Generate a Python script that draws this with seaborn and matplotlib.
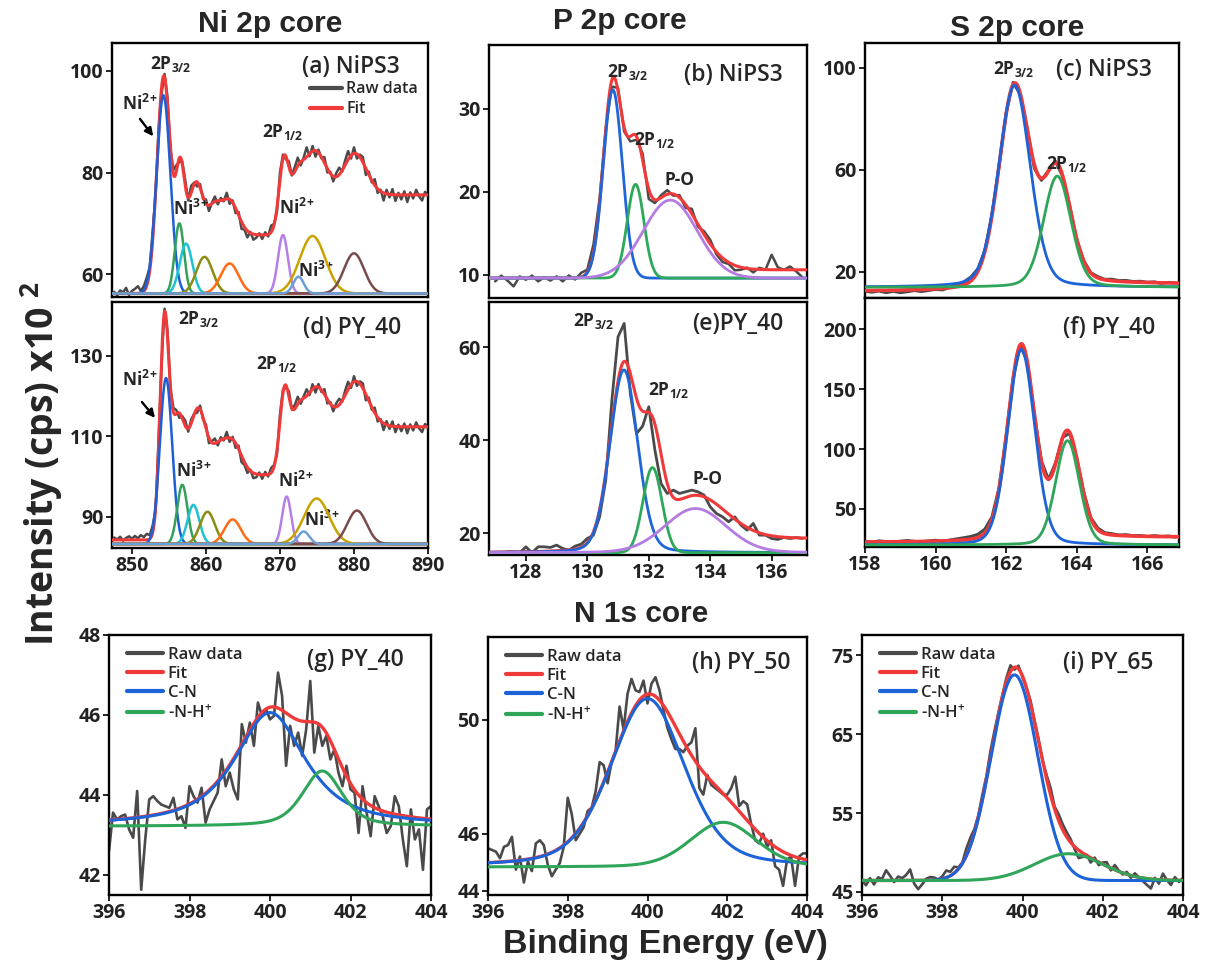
import math
import numpy as np
import matplotlib
matplotlib.use("Agg")
import matplotlib.pyplot as plt
import seaborn as sns
from matplotlib.lines import Line2D

# ---------------------------------------------------------------- data
# Peak components: centre (eV), height above baseline, FWHM (eV), Lorentz fraction
# Ni 2p, NiPS3 (a)
NI_A_CENTER = [854.25, 856.4, 857.3, 859.8, 863.2, 870.4, 874.4, 880.0, 872.5]
NI_A_AMP = [39.0, 13.8, 9.8, 7.2, 5.9, 11.5, 11.3, 7.9, 3.3]
NI_A_FWHM = [2.19, 1.46, 2.0, 2.59, 2.83, 1.58, 4.07, 3.18, 1.65]
NI_A_BASE = 56.2
NI_A_FIT_CENTER = [854.25, 856.5, 858.6, 861.0, 863.1, 870.5, 872.2, 874.5, 880.0]
NI_A_FIT_AMP = [40.0, 17.5, 13.5, 5.8, 7.4, 13.2, 5.0, 12.7, 9.2]
NI_A_FIT_FWHM = [2.07, 1.41, 2.35, 2.12, 2.83, 1.53, 1.88, 4.24, 3.77]
NI_A_BG = [56.2, 75.6]
NI_A_RESID = [0.3, -0.4, 0.6, 0.2, 1.1, -0.3, 0.5, 0.9, 1.4, 0.4, 1.0,
              1.6, 0.7, 1.8, -0.5, 0.8, -1.2, 0.6, 1.3, -0.4, 0.9,
              1.2, -0.8, 0.5, 1.1, -0.6, 1.4, 0.3, -0.9, 0.7, -0.4,
              0.8, -1.1, 0.2, 1.0, -0.7, 0.5, -0.3, 1.2, -0.9, 0.4,
              -1.0, 0.6, -1.4, -0.5, -1.3, 0.2, -1.1, -0.6, 0.3, -0.8,
              0.5, -0.4, 1.3, 0.2, -0.9, 1.5, 0.8, -0.6, 1.1, -0.3,
              0.9, 1.6, -0.7, 0.4, 1.9, -0.5, 1.0, -1.2, 0.6, -0.3,
              1.1, -0.8, 0.3, -1.0, 0.7, 1.4, -0.2, 0.9, 1.7, -0.6,
              1.2, -0.9, 0.5, 1.0, -1.3, 0.6, -0.4, 1.2, -0.8, 0.3,
              -1.5, 0.8, -0.6, 1.1, -1.2, 0.4, -0.9, 0.7, -1.4, 0.5,
              -0.7, 1.0, -0.3, -1.1, 0.6, -0.2]

# Ni 2p, PY_40 (d)
NI_D_CENTER = [854.6, 856.8, 858.3, 860.2, 863.6, 870.9, 874.95, 880.4, 873.2]
NI_D_AMP = [41.2, 14.7, 9.7, 8.0, 6.1, 11.8, 11.3, 8.3, 3.1]
NI_D_FWHM = [1.95, 1.62, 1.88, 2.35, 2.59, 1.41, 4.0, 3.06, 1.77]
NI_D_BASE = 83.3
NI_D_FIT_CENTER = [854.35, 856.15, 858.9, 861.5, 863.5, 870.6, 872.3, 874.7, 880.1]
NI_D_FIT_AMP = [49.0, 23.0, 21.0, 7.0, 9.0, 19.0, 7.0, 16.0, 13.0]
NI_D_FIT_FWHM = [1.41, 2.35, 2.59, 2.35, 2.83, 1.53, 1.88, 4.24, 4.0]
NI_D_BG = [84.3, 112.4]
NI_D_RESID = [0.6, 0.1, 0.8, -0.2, 0.5, 0.9, 0.3, 1.0, 0.4, 1.2, 0.7,
              1.5, 0.9, 1.8, -0.6, 1.2, -1.0, 0.8, 1.4, -0.5, 1.1,
              0.9, -1.2, 0.6, 1.3, -0.8, 1.0, 0.2, -1.1, 0.9, -0.5,
              1.0, -1.3, 0.4, 1.2, -0.9, 0.7, -0.4, 1.5, -1.0, 0.6,
              -1.2, 0.8, -1.6, -0.7, -1.4, 0.3, -1.3, -0.8, 0.5, -1.0,
              0.7, -0.5, 1.2, 0.4, -1.1, 1.6, 0.9, -0.7, 1.3, -0.4,
              1.0, 1.8, -0.9, 0.5, 1.7, -0.6, 1.2, -1.4, 0.8, -0.5,
              1.3, -1.0, 0.4, -1.2, 0.9, 1.5, -0.3, 1.1, 1.9, -0.8,
              1.4, -1.1, 0.6, 1.2, -1.5, 0.8, -0.6, 1.3, -1.0, 0.4,
              -1.7, 0.9, -0.8, 1.2, -1.4, 0.5, -1.1, 0.8, -1.6, 0.6,
              -0.9, 1.1, -0.4, -1.3, 0.7, -0.3]
NI_RAW_RANGE = [847.6, 890.0]

# P 2p, NiPS3 (b)
P_B_CENTER = [130.83, 131.57, 132.7]
P_B_AMP = [22.7, 11.3, 9.4]
P_B_FWHM = [0.73, 0.64, 2.07]
P_B_ETA = [0.0, 0.0, 0.0]
P_B_BASE = 9.6
P_B_BG = [9.6, 10.6]
P_B_RESID = [-0.4, 0.3, -0.3, -1.0, 0.2, -0.2, 0.3, -0.4, 0.1, -0.3,
             0.2, -0.4, 0.3, -0.2, 0.5, 0.3, 1.0, 0.6, 0.2, -0.8,
             0.4, -0.5, -0.6, -0.4, 0.8, -1.2, -0.4, 0.3, 0.5, -0.2,
             0.3, -0.4, 0.6, -0.3, 0.4, 0.5, -0.3, -0.5, -0.2, -0.6,
             -0.3, 0.1, -0.4, 0.2, 0.0, 1.8, 0.3, 0.0, 0.4, -0.2,
             -0.9]
P_B_RAW_RANGE = [127.0, 137.0]

# P 2p, PY_40 (e)
P_E_CENTER = [131.19, 132.12, 133.52]
P_E_AMP = [39.3, 18.3, 9.5]
P_E_FWHM = [1.06, 0.73, 2.35]
P_E_ETA = [0.15, 0.0, 0.1]
P_E_BASE = 15.8
P_E_BG = [15.8, 18.8]
P_E_RAW = [15.63, 15.99, 15.99, 15.77, 17.06, 15.77, 17.06, 17.06, 16.92, 17.42,
           16.70, 16.34, 17.20, 17.63, 18.85, 19.57, 23.51, 31.40, 48.60, 62.22,
           65.09, 50.04, 41.40, 43.00, 47.17, 37.85, 30.68, 28.53, 29.25, 28.53,
           28.89, 29.25, 28.89, 28.17, 25.66, 24.23, 23.51, 22.44, 23.51, 21.72,
           20.64, 22.08, 19.57, 19.57, 18.85, 18.64, 19.07, 18.85, 19.07, 18.85]
P_E_RAW_RANGE = [127.2, 137.0]

# S 2p, NiPS3 (c)
S_C_CENTER = [162.24, 163.45]
S_C_AMP = [79.3, 43.6]
S_C_FWHM = [1.05, 0.92]
S_C_ETA = [0.2, 0.2]
S_C_BASE = 14.0
S_C_BG = [12.4, 15.3]
S_C_RESID = [-0.3, -0.6, -0.2, -0.9, -0.4, -1.0, -0.7, -0.3, -0.8, -0.5,
             -0.2, -0.6, 0.1, 0.5, 1.2, 1.5, 1.0, 0.4, 0.6, -0.3,
             0.5, 0.8, -0.4, 0.3, -1.4, -0.8, 0.2, 0.6, -0.3, 0.4,
             -0.2, 0.3, 0.1, 0.5, 0.2, 0.6, 0.3, 0.5, 0.2, 0.4,
             0.1, 0.3, -0.2, 0.2, 0.0]

# S 2p, PY_40 (f)
S_F_CENTER = [162.43, 163.74]
S_F_AMP = [163.0, 87.0]
S_F_FWHM = [0.9, 0.8]
S_F_ETA = [0.15, 0.15]
S_F_BASE = 20.0
S_F_BG = [22.2, 26.4]
S_F_RESID = [0.5, -0.3, 0.8, 0.2, -0.5, 0.4, 0.9, 0.1, -0.4, 0.3,
             0.7, -0.2, 0.5, 1.2, 1.8, 2.2, 2.6, 3.0, 2.0, 1.0,
             1.5, 0.5, -1.0, 0.8, -0.6, 0.4, -0.5, 0.9, 0.3, -0.8,
             0.6, 1.2, 0.5, 1.4, 0.8, 1.0, 0.3, 0.9, 0.2, 0.6,
             -0.2, 0.7, 0.1, 0.5, -0.3]
S_RAW_RANGE = [158.0, 166.8]

# N 1s, PY_40 (g)
N_G_CENTER = [400.0, 401.3]
N_G_AMP = [2.84, 1.38]
N_G_FWHM = [2.1, 1.16]
N_G_ETA = [0.8, 0.5]
N_G_BASE = 43.22
N_G_RAW = [42.60, 43.56, 43.39, 43.47, 43.51, 43.14, 42.93, 44.10, 41.63, 42.89,
           43.89, 43.97, 43.85, 43.76, 43.72, 43.68, 43.93, 43.39, 43.47, 43.18,
           44.22, 43.97, 43.81, 44.18, 43.31, 43.64, 43.85, 44.06, 44.89, 44.22,
           44.56, 44.14, 43.89, 45.77, 45.31, 45.81, 45.23, 46.31, 45.98, 46.15,
           45.89, 45.98, 47.06, 46.48, 44.73, 45.73, 45.23, 45.56, 44.98, 45.65,
           46.85, 45.06, 45.73, 45.23, 45.48, 44.89, 45.14, 44.56, 44.22, 44.73,
           44.14, 44.06, 43.05, 44.22, 43.56, 42.97, 43.97, 43.72, 43.47, 43.05,
           43.22, 43.97, 43.72, 42.89, 42.22, 43.64, 42.89, 43.14, 42.13, 43.64,
           43.72]

# N 1s, PY_50 (h)
N_H_CENTER = [400.0, 401.9]
N_H_AMP = [5.91, 1.57]
N_H_FWHM = [2.2, 1.95]
N_H_ETA = [0.35, 0.2]
N_H_BASE = 44.83
N_H_RAW = [45.49, 45.43, 45.37, 45.14, 45.54, 45.60, 45.89, 44.74, 45.20, 44.29,
           45.03, 44.69, 45.66, 45.77, 45.60, 44.91, 44.51, 44.74, 44.97, 45.54,
           47.26, 46.69, 45.77, 46.00, 46.23, 46.80, 46.91, 47.49, 48.51, 48.40,
           47.77, 48.51, 48.91, 50.46, 49.66, 50.91, 51.43, 51.03, 50.97, 51.37,
           50.57, 51.26, 51.49, 51.03, 50.34, 49.71, 49.31, 48.97, 48.97, 48.86,
           49.09, 49.20, 49.70, 47.60, 47.37, 48.06, 47.71, 47.60, 47.49, 47.37,
           47.37, 47.60, 48.00, 46.97, 47.14, 47.03, 46.34, 45.77, 45.66, 46.00,
           45.54, 45.77, 44.86, 44.74, 44.17, 45.09, 45.20, 44.17, 45.20, 45.31,
           45.31]

# N 1s, PY_65 (i)
N_I_CENTER = [399.8, 401.15]
N_I_AMP = [26.1, 3.4]
N_I_FWHM = [1.37, 2.0]
N_I_ETA = [0.0, 0.0]
N_I_BASE = 46.44
N_I_RESID = [0.0, -0.6, 0.3, -0.5, 0.4, 0.2, 1.3, 0.6, -0.2, 0.5, 0.3,
             0.7, 1.4, -0.4, -1.1, -0.5, 0.2, 0.4, 0.3, 0.0, 0.3,
             0.9, 0.5, 0.8, 0.2, 0.1, 0.9, 1.0, 0.5, 0.3, 0.6,
             0.4, 0.8, 0.6, 0.3, 0.2, 0.5, 0.8, -0.3, 0.4, -0.2,
             0.0, 0.4, 0.2, 0.3, 0.0, 0.5, 0.9, 0.3, 0.8, 0.7,
             0.6, 0.4, -0.3, -1.0, -0.5, 0.1, -0.6, 0.3, -0.4, 0.2,
             0.5, -0.3, 0.6, 0.1, -0.2, 0.3, -0.3, 0.4, 0.0, -0.4,
             -0.8, -1.2, 0.2, -0.5, 0.8, 0.0, -0.6, 0.4, -0.2, 0.3]
N_RAW_RANGE = [396.0, 404.0]

# ---------------------------------------------------------------- style
RAW_C = "#4a4a4a"
FIT_C = "#f03a3a"
NI_COLORS = ["#1f5fd6", "#34a05a", "#1cc4d2", "#8c8c12", "#ff6a13",
             "#b67fe6", "#caa200", "#7b4b4b", "#6b9fd6"]
P_COLORS = ["#1f66d8", "#2ea85a", "#b47be2"]
SN_COLORS = ["#1d63d8", "#2fa55a"]

sns.set_theme(style="ticks")
plt.rcParams.update({
    "font.family": ["Open Sans", "DejaVu Sans"],
    "font.weight": "bold",
    "mathtext.default": "regular",
    "axes.linewidth": 1.7,
    "axes.edgecolor": "black",
    "xtick.color": "#222222",
    "ytick.color": "#222222",
    "xtick.major.width": 1.4,
    "ytick.major.width": 1.4,
    "xtick.major.size": 4,
    "ytick.major.size": 4,
    "xtick.direction": "out",
    "ytick.direction": "out",
})

W, H = 1210, 969
fig = plt.figure(figsize=(W / 100, H / 100), dpi=100)
fig.patch.set_facecolor("white")


def pvoigt(x, c, a, fwhm, eta):
    s = fwhm / 2.3548
    hw = fwhm / 2.0
    g = np.exp(-0.5 * ((x - c) / s) ** 2)
    lor = 1.0 / (1.0 + ((x - c) / hw) ** 2)
    return a * (eta * lor + (1.0 - eta) * g)


_erf = np.vectorize(math.erf)


def pvoigt_area(x, c, a, fwhm, eta):
    s = fwhm / 2.3548
    hw = fwhm / 2.0
    g = s * math.sqrt(2 * math.pi) * 0.5 * (1 + _erf((x - c) / (s * math.sqrt(2))))
    lor = hw * (np.arctan((x - c) / hw) + np.pi / 2)
    return a * (eta * lor + (1.0 - eta) * g)


def envelope(x, centers, amps, fwhms, etas, lo, hi, xlim):
    """Sum of peaks on a Shirley-type step background running from lo to hi."""
    x = np.asarray(x, float)
    params = list(zip(centers, amps, fwhms, etas))
    peaks = sum(pvoigt(x, *p) for p in params)
    if lo == hi:
        return lo + peaks
    edges = np.asarray(xlim, float)
    cum = sum(pvoigt_area(x, *p) for p in params)
    cum_e = sum(pvoigt_area(edges, *p) for p in params)
    frac = (cum - cum_e[0]) / (cum_e[1] - cum_e[0])
    return lo + (hi - lo) * frac + peaks


def line(ax, x, y, color, lw, z=2):
    sns.lineplot(x=np.asarray(x), y=np.asarray(y), ax=ax, color=color, lw=lw,
                 estimator=None, sort=False, errorbar=None, legend=False, zorder=z)


def axes_px(l, t, r, b):
    return fig.add_axes([l / W, 1 - b / H, (r - l) / W, (b - t) / H])


TICK_FS = 14


def bold_ticks(ax):
    for t in ax.get_xticklabels() + ax.get_yticklabels():
        t.set_fontweight("bold")


def draw(ax, xlim, comp, fit, base, bg, raw_x, raw_y, colors,
         raw_lw=1.4, fit_lw=2.2, comp_lw=1.8):
    xf = np.linspace(xlim[0], xlim[1], 1600)
    line(ax, raw_x, raw_y, RAW_C, raw_lw, z=2)
    fc, fa, fw, fe = fit
    line(ax, xf, envelope(xf, fc, fa, fw, fe, bg[0], bg[1], xlim), FIT_C, fit_lw, z=3)
    for (c, a, w, e), col in zip(zip(*comp), colors):
        line(ax, xf, base + pvoigt(xf, c, a, w, e), col, comp_lw, z=4)
    ax.set_xlim(*xlim)
    ax.set_xlabel("")
    ax.set_ylabel("")
    for s in ax.spines.values():
        s.set_visible(True)
        s.set_linewidth(1.7)
        s.set_color("black")
    ax.tick_params(labelsize=TICK_FS, pad=2)


LBL = dict(fontsize=16.5, fontweight="semibold", ha="center", va="center")
PK = dict(fontsize=12.5, fontweight="bold", ha="center", va="center")
ARROW = dict(arrowstyle="-|>", color="black", lw=1.7, mutation_scale=12)
NI2 = "Ni$^{2}$$^{+}$"
NI3 = "Ni$^{3}$$^{+}$"

# ---------------------------------------------------------------- Ni 2p
ni_xlim = (847.3, 890.0)
zeros9 = [0.0] * 9

ax_a = axes_px(112, 43, 428, 297)
ni_raw_xa = np.linspace(NI_RAW_RANGE[0], NI_RAW_RANGE[1], len(NI_A_RESID))
fit_a = (NI_A_FIT_CENTER, NI_A_FIT_AMP, NI_A_FIT_FWHM, zeros9)
raw_a = envelope(ni_raw_xa, *fit_a, NI_A_BG[0], NI_A_BG[1], ni_xlim) + np.array(NI_A_RESID)
draw(ax_a, ni_xlim, (NI_A_CENTER, NI_A_AMP, NI_A_FWHM, zeros9), fit_a, NI_A_BASE, NI_A_BG,
     ni_raw_xa, raw_a, NI_COLORS, raw_lw=1.8)
ax_a.set_ylim(55.5, 105.5)
ax_a.set_yticks([60, 80, 100])
ax_a.set_xticks([850, 860, 870, 880, 890])
ax_a.tick_params(axis="x", bottom=False, labelbottom=False)
bold_ticks(ax_a)

ax_d = axes_px(112, 302, 428, 548)
ni_raw_xd = np.linspace(NI_RAW_RANGE[0], NI_RAW_RANGE[1], len(NI_D_RESID))
fit_d = (NI_D_FIT_CENTER, NI_D_FIT_AMP, NI_D_FIT_FWHM, zeros9)
raw_d = envelope(ni_raw_xd, *fit_d, NI_D_BG[0], NI_D_BG[1], ni_xlim) + np.array(NI_D_RESID)
draw(ax_d, ni_xlim, (NI_D_CENTER, NI_D_AMP, NI_D_FWHM, zeros9), fit_d, NI_D_BASE, NI_D_BG,
     ni_raw_xd, raw_d, NI_COLORS, raw_lw=1.8)
ax_d.set_ylim(82.3, 143.4)
ax_d.set_yticks([90, 110, 130])
ax_d.set_xticks([850, 860, 870, 880, 890])
bold_ticks(ax_d)

# labels (a)
ax_a.text(0.756, 0.906, "(a) NiPS3", transform=ax_a.transAxes, **LBL)
ax_a.text(855.25, 101.3, "2P$_{3/2}$", **PK)
ax_a.text(851.0, 93.6, NI2, **PK)
ax_a.annotate("", xy=(853.1, 86.7), xytext=(850.85, 91.0), arrowprops=ARROW)
ax_a.text(857.9, 72.8, NI3, **PK)
ax_a.text(870.35, 88.0, "2P$_{1/2}$", **PK)
ax_a.text(872.3, 73.0, NI2, **PK)
ax_a.text(874.9, 60.6, NI3, **PK)
ax_a.legend(handles=[Line2D([], [], color=RAW_C, lw=3),
                     Line2D([], [], color=FIT_C, lw=3)],
            labels=["Raw data", "Fit"], loc="upper left",
            bbox_to_anchor=(0.6, 0.88), frameon=False, handlelength=2.0,
            handletextpad=0.3, labelspacing=0.25, borderpad=0,
            prop=dict(size=11.5, weight="semibold"))

# labels (d)
ax_d.text(0.761, 0.894, "(d) PY_40", transform=ax_d.transAxes, **LBL)
ax_d.text(859.0, 139.1, "2P$_{3/2}$", **PK)
ax_d.text(851.1, 124.0, NI2, **PK)
ax_d.annotate("", xy=(853.35, 114.1), xytext=(851.1, 119.1), arrowprops=ARROW)
ax_d.text(869.6, 128.0, "2P$_{1/2}$", **PK)
ax_d.text(858.3, 101.4, NI3, **PK)
ax_d.text(872.1, 98.9, NI2, **PK)
ax_d.text(875.6, 89.2, NI3, **PK)

# ---------------------------------------------------------------- P 2p
p_xlim = (126.8, 137.15)
ax_b = axes_px(489, 45, 807, 298)
pb_x = np.linspace(P_B_RAW_RANGE[0], P_B_RAW_RANGE[1], len(P_B_RESID))
comp_b = (P_B_CENTER, P_B_AMP, P_B_FWHM, P_B_ETA)
raw_b = envelope(pb_x, *comp_b, P_B_BG[0], P_B_BG[1], p_xlim) + np.array(P_B_RESID)
draw(ax_b, p_xlim, comp_b, comp_b, P_B_BASE, P_B_BG, pb_x, raw_b, P_COLORS,
     raw_lw=1.8, comp_lw=2.0)
ax_b.set_ylim(7.2, 37.7)
ax_b.set_yticks([10, 20, 30])
ax_b.tick_params(axis="x", bottom=False, labelbottom=False)
bold_ticks(ax_b)
ax_b.text(0.767, 0.881, "(b) NiPS3", transform=ax_b.transAxes, **LBL)
ax_b.text(131.3, 34.4, "2P$_{3/2}$", **PK)
ax_b.text(132.2, 26.3, "2P$_{1/2}$", **PK)
ax_b.text(133.0, 21.4, "P-O", **PK)

ax_e = axes_px(489, 302, 807, 555)
pe_x = np.linspace(P_E_RAW_RANGE[0], P_E_RAW_RANGE[1], len(P_E_RAW))
comp_e = (P_E_CENTER, P_E_AMP, P_E_FWHM, P_E_ETA)
draw(ax_e, p_xlim, comp_e, comp_e, P_E_BASE, P_E_BG, pe_x, P_E_RAW, P_COLORS,
     raw_lw=2.0, comp_lw=2.0)
ax_e.set_ylim(15.3, 69.7)
ax_e.set_yticks([20, 40, 60])
ax_e.set_xticks([128, 130, 132, 134, 136])
bold_ticks(ax_e)
ax_e.text(0.783, 0.913, "(e)PY_40", transform=ax_e.transAxes, **LBL)
ax_e.text(130.2, 65.6, "2P$_{3/2}$", **PK)
ax_e.text(132.64, 50.8, "2P$_{1/2}$", **PK)
ax_e.text(133.9, 31.6, "P-O", **PK)

# ---------------------------------------------------------------- S 2p
s_xlim = (158.0, 166.9)
s_x = np.linspace(S_RAW_RANGE[0], S_RAW_RANGE[1], len(S_C_RESID))

ax_c = axes_px(865, 43, 1179, 298)
comp_c = (S_C_CENTER, S_C_AMP, S_C_FWHM, S_C_ETA)
raw_c = envelope(s_x, *comp_c, S_C_BG[0], S_C_BG[1], s_xlim) + np.array(S_C_RESID)
draw(ax_c, s_xlim, comp_c, comp_c, S_C_BASE, S_C_BG, s_x, raw_c, SN_COLORS,
     raw_lw=2.2, fit_lw=2.6, comp_lw=2.0)
ax_c.set_ylim(9.8, 109.8)
ax_c.set_yticks([20, 60, 100])
ax_c.set_xticks([160, 162, 164, 166])
ax_c.tick_params(axis="x", labelbottom=False)
bold_ticks(ax_c)
ax_c.text(0.761, 0.894, "(c) NiPS3", transform=ax_c.transAxes, **LBL)
ax_c.text(162.2, 99.6, "2P$_{3/2}$", **PK)
ax_c.text(163.72, 62.5, "2P$_{1/2}$", **PK)

ax_f = axes_px(865, 298, 1179, 547)
comp_f = (S_F_CENTER, S_F_AMP, S_F_FWHM, S_F_ETA)
raw_f = envelope(s_x, *comp_f, S_F_BG[0], S_F_BG[1], s_xlim) + np.array(S_F_RESID)
draw(ax_f, s_xlim, comp_f, comp_f, S_F_BASE, S_F_BG, s_x, raw_f, SN_COLORS,
     raw_lw=2.2, fit_lw=2.6, comp_lw=2.0)
ax_f.set_ylim(18.3, 226)
ax_f.set_yticks([50, 100, 150, 200])
ax_f.set_xticks([158, 160, 162, 164, 166])
bold_ticks(ax_f)
ax_f.text(0.777, 0.88, "(f) PY_40", transform=ax_f.transAxes, **LBL)

# ---------------------------------------------------------------- N 1s
n_xlim = (396.0, 404.0)
n_x = np.linspace(N_RAW_RANGE[0], N_RAW_RANGE[1], len(N_G_RAW))
n_handles = [Line2D([], [], color=RAW_C, lw=3), Line2D([], [], color=FIT_C, lw=3),
             Line2D([], [], color=SN_COLORS[0], lw=3), Line2D([], [], color=SN_COLORS[1], lw=3)]
n_labels = ["Raw data", "Fit", "C-N", "-N-H$^{+}$"]


def n_panel(box, center, amp, fwhm, eta, base, raw_y, ylim, yticks, label, lab_pos):
    ax = axes_px(*box)
    comp = (center, amp, fwhm, eta)
    draw(ax, n_xlim, comp, comp, base, (base, base), n_x, raw_y, SN_COLORS,
         raw_lw=1.9, fit_lw=2.4, comp_lw=2.2)
    ax.set_ylim(*ylim)
    ax.set_yticks(yticks)
    ax.set_xticks([396, 398, 400, 402, 404])
    bold_ticks(ax)
    ax.text(lab_pos[0], lab_pos[1], label, transform=ax.transAxes, **LBL)
    ax.legend(handles=n_handles, labels=n_labels, loc="upper left",
              bbox_to_anchor=(0.03, 0.985), frameon=False, handlelength=2.15,
              handletextpad=0.3, labelspacing=0.18, borderpad=0,
              prop=dict(size=12, weight="semibold"))
    return ax


n_panel((109, 635, 431, 895), N_G_CENTER, N_G_AMP, N_G_FWHM, N_G_ETA, N_G_BASE,
        N_G_RAW, (41.5, 48.0), [42, 44, 46, 48], "(g) PY_40", (0.764, 0.904))
n_panel((488, 637, 807, 895), N_H_CENTER, N_H_AMP, N_H_FWHM, N_H_ETA, N_H_BASE,
        N_H_RAW, (43.85, 52.9), [44, 46, 50], "(h) PY_50", (0.795, 0.899))
n_i_y = envelope(n_x, N_I_CENTER, N_I_AMP, N_I_FWHM, N_I_ETA, N_I_BASE, N_I_BASE, n_xlim) \
    + np.array(N_I_RESID)
n_panel((862, 635, 1183, 895), N_I_CENTER, N_I_AMP, N_I_FWHM, N_I_ETA, N_I_BASE,
        n_i_y, (44.6, 77.6), [45, 55, 65, 75], "(i) PY_65", (0.766, 0.892))

# ---------------------------------------------------------------- titles
TITLE = dict(fontsize=21.5, fontweight="bold", ha="center", va="center",
             family=["Liberation Sans", "DejaVu Sans"])
fig.text(270 / W, 1 - 24 / H, "Ni 2p core", **TITLE)
fig.text(620 / W, 1 - 21 / H, "P 2p core", **TITLE)
fig.text(1017 / W, 1 - 28 / H, "S 2p core", **TITLE)
fig.text(641 / W, 1 - 614 / H, "N 1s core", **TITLE)
fig.text(665 / W, 1 - 945 / H, "Binding Energy (eV)", fontsize=24.5, fontweight="bold",
         ha="center", va="center", family=["Liberation Sans", "DejaVu Sans"])
fig.text(42 / W, 1 - 463 / H, "Intensity (cps) x10 $^{2}$", fontsize=27,
         fontweight="bold", rotation=90, ha="center", va="center")

fig.savefig("out.png", dpi=100, facecolor="white")
